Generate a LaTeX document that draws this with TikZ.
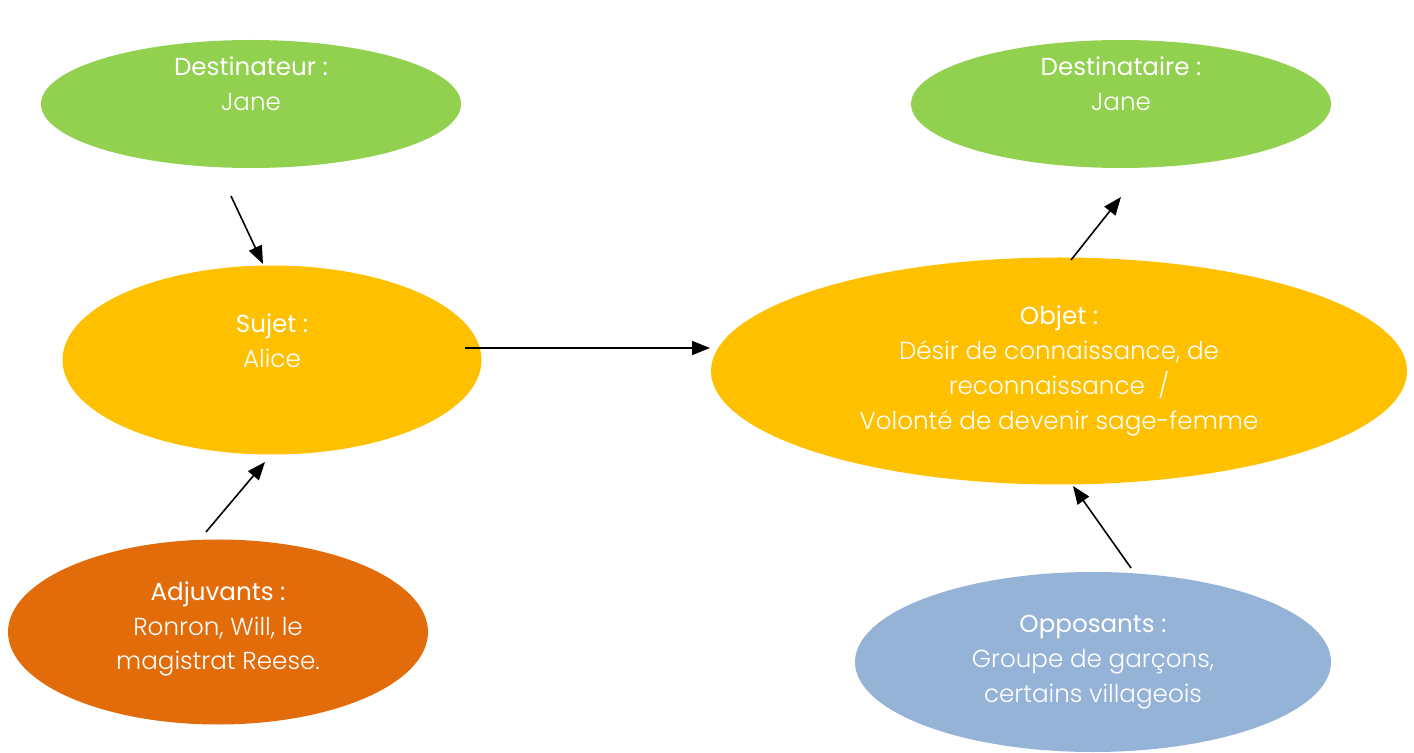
\documentclass[tikz,border=0pt]{standalone}
\usepackage{fontspec}
\setmainfont{Poppins}[UprightFont=* Light, BoldFont=* Regular]
\usetikzlibrary{shapes.geometric,arrows.meta}
\definecolor{cgreen}{HTML}{92D050}
\definecolor{cyellow}{HTML}{FFC000}
\definecolor{corange}{HTML}{E36C0A}
\definecolor{cblue}{HTML}{95B3D7}
\begin{document}
\begin{tikzpicture}[x=0.5pt,y=-0.5pt,
  blob/.style={ellipse,inner sep=0pt,draw=none},
  txt/.style={text=white,align=center,font=\fontsize{12.3}{17.4}\selectfont,inner sep=0pt},
  arr/.style={-{Triangle[length=9pt,width=7pt]},line width=0.8pt,black}]
\useasboundingbox (0,0) rectangle (1414,753);
\clip (0,0) rectangle (1414,753);
% ellipses
\node[blob,fill=cgreen,minimum width=210pt,minimum height=64pt] (e1) at (251,104) {};
\node[blob,fill=cgreen,minimum width=210pt,minimum height=64pt] (e2) at (1121,104) {};
\node[blob,fill=cyellow,minimum width=209.5pt,minimum height=94.5pt] (e3) at (272,360) {};
\node[blob,fill=cyellow,minimum width=348pt,minimum height=113.5pt] (e4) at (1059,371) {};
\node[blob,fill=corange,minimum width=210pt,minimum height=92.5pt] (e5) at (218,632) {};
\node[blob,fill=cblue,minimum width=238pt,minimum height=90pt] (e6) at (1093,662) {};
% texts
\node[txt] (t1) at (251,84) {\textbf{Destinateur :}\\Jane};
\node[txt] (t2) at (1121,84) {\textbf{Destinataire :}\\Jane};
\node[txt] (t3) at (272,341) {\textbf{Sujet :}\\Alice};
\node[txt] (t4) at (1059,371) {\textbf{Objet :}\\Désir de connaissance, de\\reconnaissance~~/\\Volonté de devenir sage-femme};
\node[txt] (t5) at (218,629) {\textbf{Adjuvants :}\\Ronron, Will, le\\magistrat Reese.};
\node[txt] (t6) at (1093,662) {\textbf{Opposants :}\\Groupe de garçons,\\certains villageois};
% connector endpoints
\coordinate (a1) at (231,196); \coordinate (b1) at (263,264);
\coordinate (a2) at (206,532); \coordinate (b2) at (265,462);
\coordinate (a3) at (465,348); \coordinate (b3) at (710,348);
\coordinate (a4) at (1071,260); \coordinate (b4) at (1121,197);
\coordinate (a5) at (1131,568); \coordinate (b5) at (1073,486);
\draw[arr] (a1) -- (b1);
\draw[arr] (a2) -- (b2);
\draw[arr] (a3) -- (b3);
\draw[arr] (a4) -- (b4);
\draw[arr] (a5) -- (b5);
\end{tikzpicture}
\end{document}
